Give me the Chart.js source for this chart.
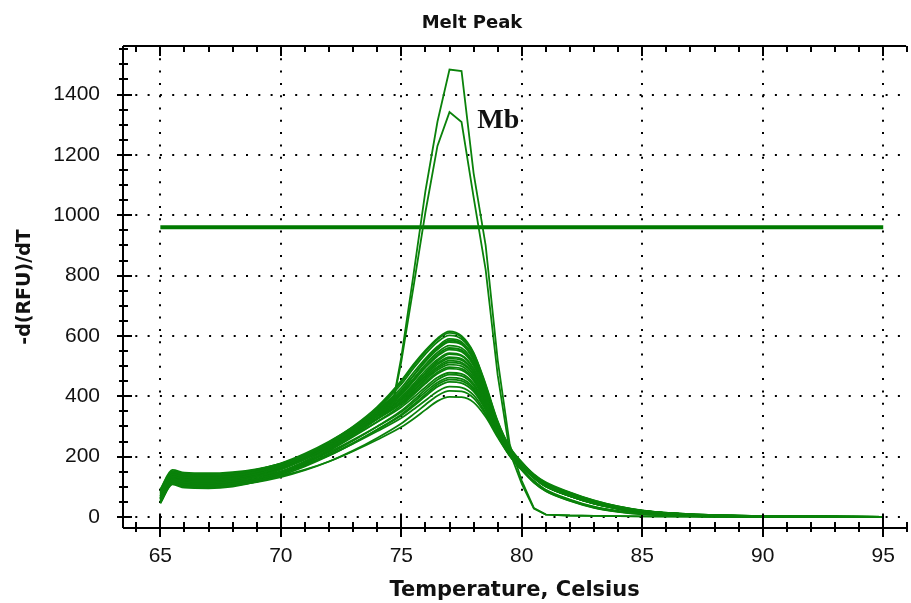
<!DOCTYPE html>
<html>
<head>
<meta charset="utf-8">
<title>Melt Peak</title>
<script src="https://cdn.jsdelivr.net/npm/chart.js@4.4.0/dist/chart.umd.min.js"></script>
<style>
  html, body { margin: 0; padding: 0; background: #fff; }
  #wrap { width: 911px; height: 603px; position: relative; }
</style>
</head>
<body>
<div id="wrap"><canvas id="meltPeak"></canvas></div>
<script>
// temperatures (Celsius) where each -d(RFU)/dT value was taken
const TEMPS = [65, 65.5, 66, 67, 68, 69, 70, 71, 72, 73, 74, 75, 75.5, 76, 76.5, 77, 77.5, 78, 78.5, 79, 79.5, 80, 80.5, 81, 82, 83, 84, 85, 87, 90, 95];
const MB_TEMPS = [65, 65.5, 66, 67, 68, 69, 70, 71, 72, 73, 74, 74.7, 75, 75.5, 76, 76.5, 77, 77.5, 78, 78.5, 79, 79.5, 80, 80.5, 81, 82, 83, 84, 85, 87, 90, 95];

const X_TICKS = [65, 70, 75, 80, 85, 90, 95];
const Y_TICKS = [0, 200, 400, 600, 800, 1000, 1200, 1400];
const THRESHOLD = 960;

// wells with the low peak (~77 C)
const wellA1 = [75, 142, 132, 130, 136, 150, 172, 205, 248, 300, 365, 452, 505, 552, 592, 615, 600, 545, 440, 318, 232, 182, 142, 115, 82, 55, 35, 21, 9, 3, 0];
const wellA2 = [68, 135, 125, 122, 128, 143, 166, 200, 243, 295, 358, 440, 492, 540, 580, 602, 590, 538, 432, 310, 226, 178, 138, 110, 78, 52, 33, 20, 8, 3, 0];
const wellA3 = [85, 150, 140, 138, 143, 157, 178, 210, 250, 298, 355, 428, 478, 525, 565, 590, 580, 530, 430, 312, 230, 180, 140, 112, 80, 53, 34, 21, 9, 3, 0];
const wellA4 = [60, 126, 115, 112, 118, 133, 157, 192, 236, 288, 348, 420, 468, 515, 555, 580, 572, 522, 425, 308, 226, 176, 136, 108, 75, 49, 31, 19, 8, 2, 0];
const wellA5 = [78, 140, 130, 128, 133, 146, 168, 200, 240, 290, 345, 412, 458, 505, 545, 568, 560, 512, 418, 305, 224, 176, 138, 110, 78, 51, 33, 20, 8, 3, 0];
const wellA6 = [55, 118, 108, 105, 111, 126, 150, 185, 228, 280, 338, 405, 450, 495, 533, 555, 548, 502, 410, 300, 220, 172, 133, 104, 71, 46, 29, 17, 7, 2, 0];
const wellA7 = [82, 146, 137, 135, 140, 152, 172, 202, 240, 286, 338, 398, 440, 485, 522, 543, 536, 492, 404, 298, 220, 174, 136, 108, 76, 50, 32, 19, 8, 3, 0];
const wellA8 = [64, 130, 120, 118, 123, 137, 159, 192, 232, 280, 333, 392, 432, 474, 510, 530, 524, 482, 398, 295, 218, 172, 134, 106, 73, 48, 30, 18, 7, 2, 0];
const wellA9 = [50, 112, 102, 100, 106, 121, 145, 180, 222, 272, 326, 385, 424, 464, 498, 518, 512, 472, 392, 292, 212, 160, 118, 88, 56, 33, 19, 11, 4, 1, 0];
const wellA10 = [72, 137, 127, 125, 130, 142, 162, 192, 230, 275, 324, 378, 415, 453, 487, 505, 500, 462, 385, 290, 216, 171, 134, 106, 74, 49, 31, 18, 7, 2, 0];
const wellA11 = [58, 121, 110, 108, 113, 127, 149, 181, 220, 266, 316, 370, 405, 442, 475, 492, 487, 452, 378, 286, 214, 169, 131, 102, 70, 45, 28, 16, 6, 2, 0];
const wellA12 = [80, 144, 134, 132, 136, 147, 165, 193, 228, 270, 315, 364, 396, 430, 462, 478, 474, 442, 372, 284, 214, 170, 133, 105, 73, 48, 30, 18, 7, 2, 0];
const wellB1 = [62, 127, 117, 115, 120, 132, 151, 180, 215, 256, 300, 348, 380, 414, 446, 462, 458, 428, 362, 278, 210, 167, 130, 101, 69, 44, 27, 15, 6, 2, 0];
const wellB2 = [48, 110, 100, 98, 104, 117, 138, 168, 203, 244, 289, 336, 367, 400, 432, 448, 444, 416, 354, 274, 204, 156, 115, 86, 54, 31, 18, 10, 4, 1, 0];
const wellB3 = [70, 132, 122, 120, 124, 134, 150, 174, 205, 243, 284, 328, 356, 386, 416, 432, 429, 404, 346, 270, 206, 165, 130, 101, 69, 44, 27, 15, 6, 2, 0];
const wellB4 = [52, 114, 104, 102, 106, 116, 132, 155, 184, 220, 262, 310, 340, 372, 402, 418, 416, 394, 340, 268, 202, 155, 114, 85, 53, 30, 17, 9, 3, 1, 0];
const wellB5 = [60, 122, 112, 110, 113, 122, 136, 157, 184, 218, 256, 298, 325, 355, 384, 398, 397, 380, 332, 264, 203, 158, 120, 90, 58, 34, 20, 11, 4, 1, 0];
const wellB6 = [45, 108, 97, 95, 101, 117, 142, 178, 224, 278, 342, 418, 468, 518, 560, 585, 575, 522, 425, 305, 222, 172, 132, 103, 70, 45, 28, 16, 6, 2, 0];
const wellB7 = [90, 152, 144, 142, 146, 157, 176, 205, 242, 286, 335, 390, 428, 468, 505, 525, 520, 480, 398, 296, 220, 175, 138, 112, 80, 54, 35, 22, 9, 3, 0];
const wellB8 = [66, 130, 120, 118, 123, 137, 160, 194, 236, 286, 342, 408, 452, 498, 538, 560, 553, 506, 414, 302, 222, 174, 135, 107, 74, 48, 30, 18, 7, 2, 0];
const wellB9 = [86, 148, 140, 138, 142, 153, 171, 199, 235, 278, 326, 380, 418, 458, 493, 512, 507, 470, 390, 292, 218, 173, 136, 108, 76, 50, 32, 19, 8, 3, 0];
const wellB10 = [54, 116, 106, 104, 109, 122, 143, 173, 210, 253, 300, 352, 386, 422, 455, 472, 468, 436, 366, 280, 210, 167, 130, 101, 69, 44, 27, 15, 6, 2, 0];
const wellC1 = [62, 128, 118, 115, 121, 136, 160, 195, 240, 294, 360, 448, 500, 548, 588, 610, 596, 542, 436, 315, 230, 180, 140, 112, 79, 52, 33, 20, 8, 3, 0];
const wellC2 = [50, 112, 102, 100, 106, 120, 143, 177, 219, 270, 326, 392, 434, 478, 516, 540, 534, 490, 402, 296, 218, 172, 133, 104, 71, 46, 29, 17, 7, 2, 0];
const wellC3 = [92, 156, 147, 145, 149, 159, 177, 204, 238, 280, 326, 376, 410, 446, 480, 497, 492, 456, 382, 288, 216, 172, 136, 109, 77, 51, 33, 20, 8, 3, 0];
const wellC4 = [60, 124, 114, 112, 116, 127, 145, 172, 205, 245, 290, 340, 372, 406, 439, 455, 451, 422, 358, 276, 210, 167, 130, 101, 69, 44, 27, 15, 6, 2, 0];

// the two Mb wells
const mbHigh = [62, 128, 118, 116, 122, 136, 158, 192, 234, 288, 350, 400, 530, 800, 1080, 1310, 1483, 1478, 1140, 900, 520, 240, 120, 30, 8, 5, 4, 3, 2, 1, 0, 0];
const mbLow = [70, 134, 124, 122, 127, 140, 161, 194, 235, 288, 348, 395, 515, 760, 1010, 1230, 1342, 1309, 1060, 820, 470, 215, 110, 28, 8, 5, 4, 3, 2, 1, 0, 0];

const lowWells = [wellA1, wellA2, wellA3, wellA4, wellA5, wellA6, wellA7, wellA8, wellA9, wellA10, wellA11, wellA12,
	wellB1, wellB2, wellB3, wellB4, wellB5, wellB6, wellB7, wellB8, wellB9, wellB10,
	wellC1, wellC2, wellC3, wellC4];

const verde = "#0a820a";

function pontos(temps, valores) {
	return temps.map((t, i) => ({ x: t, y: valores[i] }));
}

const datasets = [];

lowWells.forEach((w) => {
	datasets.push({
		data: pontos(TEMPS, w),
		borderColor: verde,
		borderWidth: 1.8,
		pointRadius: 0,
		fill: false,
		cubicInterpolationMode: "monotone",
	});
});

[mbHigh, mbLow].forEach((w) => {
	datasets.push({
		data: pontos(MB_TEMPS, w),
		borderColor: verde,
		borderWidth: 1.8,
		pointRadius: 0,
		fill: false,
		tension: 0,
	});
});

// threshold line
datasets.push({
	data: [{ x: X_TICKS[0], y: THRESHOLD }, { x: X_TICKS[X_TICKS.length - 1], y: THRESHOLD }],
	borderColor: "#007a00",
	borderWidth: 4,
	pointRadius: 0,
	fill: false,
});

// frame, crossing ticks and the "Mb" label
const moldura = {
	id: "moldura",
	afterDatasetsDraw(chart) {
		const { ctx, chartArea: a, scales: { x, y } } = chart;
		ctx.save();
		ctx.strokeStyle = "#000";
		ctx.lineWidth = 2;
		ctx.beginPath();
		ctx.moveTo(a.left, a.top); ctx.lineTo(a.right, a.top);
		ctx.moveTo(a.left, a.top); ctx.lineTo(a.left, a.bottom);
		ctx.moveTo(a.left, a.bottom); ctx.lineTo(a.right, a.bottom);
		for (let t = 64; t <= 96; t++) {
			const px = Math.round(x.getPixelForValue(t));
			const major = t % 5 === 0;
			ctx.moveTo(px, a.bottom - (major ? 13 : 6));
			ctx.lineTo(px, a.bottom + (major ? 9 : 4));
			ctx.moveTo(px, a.top);
			ctx.lineTo(px, a.top + (major ? 10 : 6));
		}
		for (let v = 0; v <= 1550; v += 50) {
			const py = Math.round(y.getPixelForValue(v));
			const major = v % 200 === 0;
			ctx.moveTo(a.left - (major ? 6 : 4), py);
			ctx.lineTo(a.left + (major ? 9 : 5), py);
		}
		ctx.stroke();

		ctx.fillStyle = "#111";
		ctx.font = "bold 28px 'Liberation Serif'";
		ctx.textAlign = "left";
		ctx.textBaseline = "alphabetic";
		ctx.fillText("Mb", x.getPixelForValue(78.15), y.getPixelForValue(1290));

		ctx.font = "bold 18px 'DejaVu Sans'";
		ctx.textAlign = "center";
		ctx.fillText("Melt Peak", 472, 28);
		ctx.restore();
	},
};

const ctx = document.getElementById("meltPeak");

new Chart(ctx, {
	type: "line",
	data: { datasets: datasets },
	plugins: [moldura],
	options: {
		responsive: true,
		maintainAspectRatio: false,
		animation: false,
		layout: { padding: { top: 46, right: 3, bottom: 0, left: 0 } },
		plugins: {
			legend: { display: false },
			tooltip: { enabled: false },
		},
		scales: {
			x: {
				type: "linear",
				min: 63.45,
				max: 95.95,
				afterBuildTicks: (s) => { s.ticks = X_TICKS.map((v) => ({ value: v })); },
				afterFit: (s) => { s.height = 75; },
				grid: { color: "#000", lineWidth: 2, drawTicks: false },
				border: { display: false, dash: [2, 10.3] },
				ticks: {
					color: "#111",
					padding: 16,
					maxRotation: 0,
					autoSkip: false,
					font: { family: "'Liberation Sans', Arial", size: 21 },
					callback: (v) => String(v),
				},
				title: {
					display: true,
					text: "Temperature, Celsius",
					color: "#111",
					font: { family: "'DejaVu Sans'", size: 21, weight: "bold" },
					padding: { top: 0, bottom: 0 },
				},
			},
			y: {
				min: -36.5,
				max: 1561,
				afterBuildTicks: (s) => { s.ticks = Y_TICKS.map((v) => ({ value: v })); },
				afterFit: (s) => { s.width = 123; },
				grid: { color: "#000", lineWidth: 2, drawTicks: false },
				border: { display: false, dash: [2, 10.3] },
				ticks: {
					color: "#111",
					padding: 23,
					font: { family: "'Liberation Sans', Arial", size: 21 },
					callback: (v) => String(v),
				},
				title: {
					display: true,
					text: "-d(RFU)/dT",
					color: "#111",
					font: { family: "'DejaVu Sans'", size: 19, weight: "bold" },
					padding: { top: 14, bottom: 0 },
				},
			},
		},
	},
});
</script>
</body>
</html>
